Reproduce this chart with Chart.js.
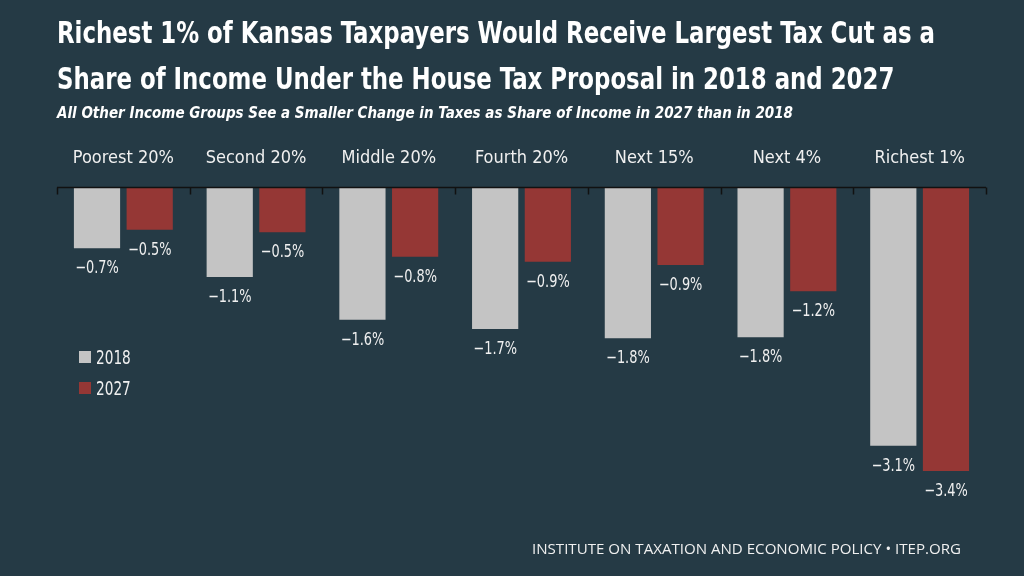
<!DOCTYPE html>
<html>
<head>
<meta charset="utf-8">
<script src="https://cdn.jsdelivr.net/npm/chart.js@4.4.0/dist/chart.umd.min.js"></script>
<style>
  html, body { margin:0; padding:0; background:#253a45; }
  #wrap { position:relative; width:1024px; height:576px; overflow:hidden; background:#253a45; }
  canvas { position:absolute; left:0; top:0; }
  .t { position:absolute; color:#ffffff; white-space:nowrap; transform-origin:0 0; }
  #title { left:57px; top:10px; font-family:"DejaVu Sans Condensed","DejaVu Sans",sans-serif; font-weight:bold; font-size:30px; line-height:45.5px; }
  #subtitle { left:57px; top:103px; font-family:"DejaVu Sans Condensed","DejaVu Sans",sans-serif; font-weight:bold; font-style:italic; font-size:16px; }
  #footer { left:532px; top:538px; font-family:"Open Sans",sans-serif; font-size:15px; color:#f0f0f0; }
  #legend { position:absolute; left:79px; top:341px; }
  .li { display:flex; align-items:center; height:31px; font-family:"DejaVu Sans Condensed","DejaVu Sans",sans-serif; font-size:19px; color:#f0f0f0; }
  .sw { width:12px; height:12px; margin-right:5px; flex:none; }
  .lt { display:inline-block; transform:scaleX(0.8); transform-origin:0 50%; }
</style>
</head>
<body>
<div id="wrap">
  <canvas id="c" width="1024" height="576"></canvas>
  <div id="title" class="t"><span id="tl1">Richest 1% of Kansas Taxpayers Would Receive Largest Tax Cut as a</span><br><span id="tl2">Share of Income Under the House Tax Proposal in 2018 and 2027</span></div>
  <div id="subtitle" class="t">All Other Income Groups See a Smaller Change in Taxes as Share of Income in 2027 than in 2018</div>
  <div id="legend"></div>
  <div id="footer" class="t">INSTITUTE ON TAXATION AND ECONOMIC POLICY • ITEP.ORG</div>
</div>
<script>
const categories = ["Poorest 20%", "Second 20%", "Middle 20%", "Fourth 20%", "Next 15%", "Next 4%", "Richest 1%"];
const seriesNames = ["2018", "2027"];
const values2018 = [-0.73, -1.07, -1.58, -1.69, -1.80, -1.79, -3.08];
const values2027 = [-0.51, -0.54, -0.83, -0.89, -0.93, -1.24, -3.38];
const seriesColors = ["#c4c4c4", "#953735"];

const FONT = '"DejaVu Sans Condensed","DejaVu Sans",sans-serif';

function fmt(v) {
  return (v < 0 ? "\u2212" : "") + Math.abs(v).toFixed(1) + "%";
}

const valueLabels = {
  id: "valueLabels",
  afterDatasetsDraw(chart) {
    const ctx = chart.ctx;
    chart.data.datasets.forEach((ds, di) => {
      const meta = chart.getDatasetMeta(di);
      meta.data.forEach((bar, i) => {
        ctx.save();
        ctx.fillStyle = "#f0f0f0";
        ctx.font = "17.5px " + FONT;
        ctx.textAlign = "center";
        ctx.textBaseline = "alphabetic";
        ctx.translate(bar.x, bar.y + 25);
        ctx.scale(0.82, 1);
        ctx.fillText(fmt(ds.data[i]), 0, 0);
        ctx.restore();
      });
    });
  }
};

const axisTicks = {
  id: "axisTicks",
  afterDraw(chart) {
    const x = chart.scales.x;
    const ctx = chart.ctx;
    const n = categories.length;
    const w = (x.right - x.left) / n;
    const top = Math.round(chart.chartArea.top) + 0.5;
    ctx.save();
    ctx.strokeStyle = "#111111";
    ctx.lineWidth = 1.5;
    ctx.beginPath();
    ctx.moveTo(x.left, top);
    ctx.lineTo(x.right, top);
    for (let i = 0; i <= n; i++) {
      const px = Math.round(x.left + i * w) + 0.5;
      ctx.moveTo(px, top);
      ctx.lineTo(px, top + 7);
    }
    ctx.stroke();
    ctx.restore();
  }
};

const chart = new Chart(document.getElementById("c"), {
  type: "bar",
  data: {
    labels: categories,
    datasets: [
      { label: seriesNames[0], data: values2018, backgroundColor: seriesColors[0] },
      { label: seriesNames[1], data: values2027, backgroundColor: seriesColors[1] }
    ]
  },
  options: {
    responsive: false,
    animation: false,
    devicePixelRatio: 1,
    layout: { padding: { left: 57, right: 38, top: 147, bottom: 0 } },
    datasets: { bar: { categoryPercentage: 0.794, barPercentage: 0.877 } },
    plugins: { legend: { display: false }, tooltip: { enabled: false } },
    scales: {
      x: {
        position: "top",
        grid: { display: false, drawTicks: false },
        border: { display: false },
        ticks: { color: "#f0f0f0", font: { family: FONT, size: 18 }, padding: 18 },
        afterFit(s) { s.height = 40; }
      },
      y: {
        display: false,
        min: -3.6,
        max: 0
      }
    }
  },
  plugins: [valueLabels, axisTicks]
});

// bottom of chart area so that 1 percentage point = ~84px
chart.options.layout.padding.bottom = 576 - (187 + 3.6 * 84);
chart.update();

const legend = document.getElementById("legend");
chart.data.datasets.forEach(ds => {
  const d = document.createElement("div");
  d.className = "li";
  d.innerHTML = '<span class="sw" style="background:' + ds.backgroundColor + '"></span><span class="lt">' + ds.label + '</span>';
  legend.appendChild(d);
});

// condense title/subtitle text horizontally to the reference widths
function fitWidth(el, target) {
  const w = el.getBoundingClientRect().width;
  el.style.transform = "scaleX(" + (target / w) + ")";
}
const l1 = document.getElementById("tl1").getBoundingClientRect().width;
document.getElementById("title").style.transform = "scaleX(" + (878 / l1) + ")";
fitWidth(document.getElementById("subtitle"), 736);
fitWidth(document.getElementById("footer"), 429);
</script>
</body>
</html>
